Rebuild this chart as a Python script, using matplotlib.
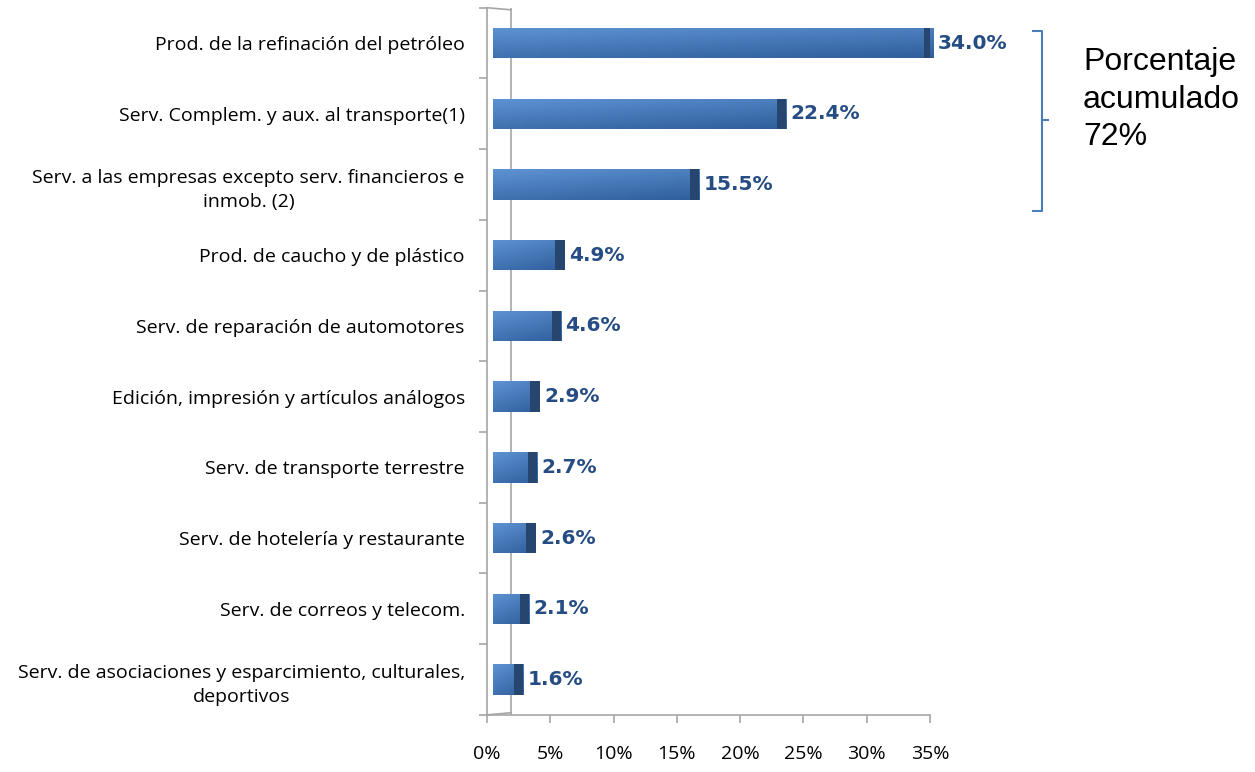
import numpy as np
import matplotlib
matplotlib.use("Agg")
import matplotlib.pyplot as plt
from matplotlib.patches import Rectangle

# Data (top to bottom as in the chart)
categories = [
    "Prod. de la refinación del petróleo",
    "Serv. Complem. y aux. al transporte(1)",
    "Serv. a las empresas excepto serv. financieros e\ninmob. (2)",
    "Prod. de caucho y de plástico",
    "Serv. de reparación de automotores",
    "Edición, impresión y artículos análogos",
    "Serv. de transporte terrestre",
    "Serv. de hotelería y restaurante",
    "Serv. de correos y telecom.",
    "Serv. de asociaciones y esparcimiento, culturales,\ndeportivos",
]
values = [34.0, 22.4, 15.5, 4.9, 4.6, 2.9, 2.7, 2.6, 2.1, 1.6]
xticks = [0, 5, 10, 15, 20, 25, 30, 35]
note_text = "Porcentaje\nacumulado\n72%"

LABEL_FONT = ["Open Sans", "DejaVu Sans"]
BAR_LIGHT = np.array([0x5e, 0x93, 0xd3]) / 255
BAR_DARK = np.array([0x2f, 0x5e, 0x9c]) / 255
CAP = "#27466f"
VALUE_COLOR = "#254c83"
GRID_GRAY = "#a6a6a6"

# 3D look of the original: bars start slightly right of the axis and carry some depth
BAR_START = 0.47
BAR_DEPTH = 0.78
WALL_X = 1.9

fig = plt.figure(figsize=(12.55, 7.72), dpi=100)
ax = fig.add_axes([487 / 1255, 0.074, 443 / 1255, 0.916])

y = np.arange(len(categories))
bar_h = 0.43
widths = [v + BAR_DEPTH for v in values]
bars = ax.barh(y, widths, height=bar_h, left=BAR_START, color="none", edgecolor="none")

# gradient fill for each bar: lighter at top-left, darker toward bottom-right
gy = np.linspace(0, 1, 64)[:, None]
gx = np.linspace(0, 1, 64)[None, :]
t = np.clip(0.65 * gy + 0.35 * gx, 0, 1)
grad = BAR_LIGHT[None, None, :] * (1 - t[..., None]) + BAR_DARK[None, None, :] * t[..., None]

for patch, yi, v, w in zip(bars.patches, y, values, widths):
    end = BAR_START + w
    im = ax.imshow(grad, extent=(BAR_START, end, yi + bar_h / 2, yi - bar_h / 2),
                   aspect="auto", zorder=2, interpolation="bilinear")
    im.set_clip_path(patch)
    cap_w = 0.75
    ax.add_patch(Rectangle((end - cap_w, yi - bar_h / 2), cap_w, bar_h,
                           facecolor=CAP, edgecolor="none", zorder=3))
    ax.text(end + 0.35, yi, f"{v:.1f}%", va="center", ha="left",
            fontsize=14.5, fontweight="bold", color=VALUE_COLOR, family="DejaVu Sans")

ax.set_xlim(0, 35)
ax.set_ylim(len(categories) - 0.5, -0.5)

# back wall line of the 3D look
ax.axvline(WALL_X, color=GRID_GRAY, lw=1.2, zorder=1)
ax.plot([0, WALL_X], [-0.5, -0.47], color=GRID_GRAY, lw=1.2, clip_on=False, zorder=1)
ax.plot([0, WALL_X], [len(categories) - 0.5, len(categories) - 0.53],
        color=GRID_GRAY, lw=1.2, clip_on=False, zorder=1)

# axes styling
for side in ["top", "right"]:
    ax.spines[side].set_visible(False)
for side in ["left", "bottom"]:
    ax.spines[side].set_color(GRID_GRAY)
    ax.spines[side].set_linewidth(1.2)

ax.set_yticks(y)
ax.set_yticklabels(categories, fontsize=14, family=LABEL_FONT)
for lab in ax.get_yticklabels():
    lab.set_multialignment("center")
    lab.set_linespacing(1.45)
ax.tick_params(axis="y", which="major", length=0, pad=16)
ax.set_yticks(np.arange(-0.5, len(categories), 1.0), minor=True)
ax.tick_params(axis="y", which="minor", length=6, color=GRID_GRAY, width=1.2)

ax.set_xticks(xticks)
ax.set_xticklabels([f"{v}%" for v in xticks], fontsize=14, family=LABEL_FONT)
ax.tick_params(axis="x", length=6, color=GRID_GRAY, width=1.2, pad=16)

# bracket grouping the top three bars
bx = 1042 / 1255
btop = 1 - 31 / 772
bbot = 1 - 211 / 772
bmid = 1 - 120 / 772
hook = 9 / 1255
bracket_color = "#4a7ebb"
fig.add_artist(plt.Line2D([bx - hook, bx, bx, bx - hook], [btop, btop, bbot, bbot],
                          transform=fig.transFigure, color=bracket_color, lw=1.5))
fig.add_artist(plt.Line2D([bx, bx + 6 / 1255], [bmid, bmid],
                          transform=fig.transFigure, color=bracket_color, lw=1.5))
fig.text(1083 / 1255, 1 - 47 / 772, note_text, ha="left", va="top",
         fontsize=23, family=["Liberation Sans", "DejaVu Sans"], linespacing=1.33)

fig.savefig("out.png", dpi=100)
